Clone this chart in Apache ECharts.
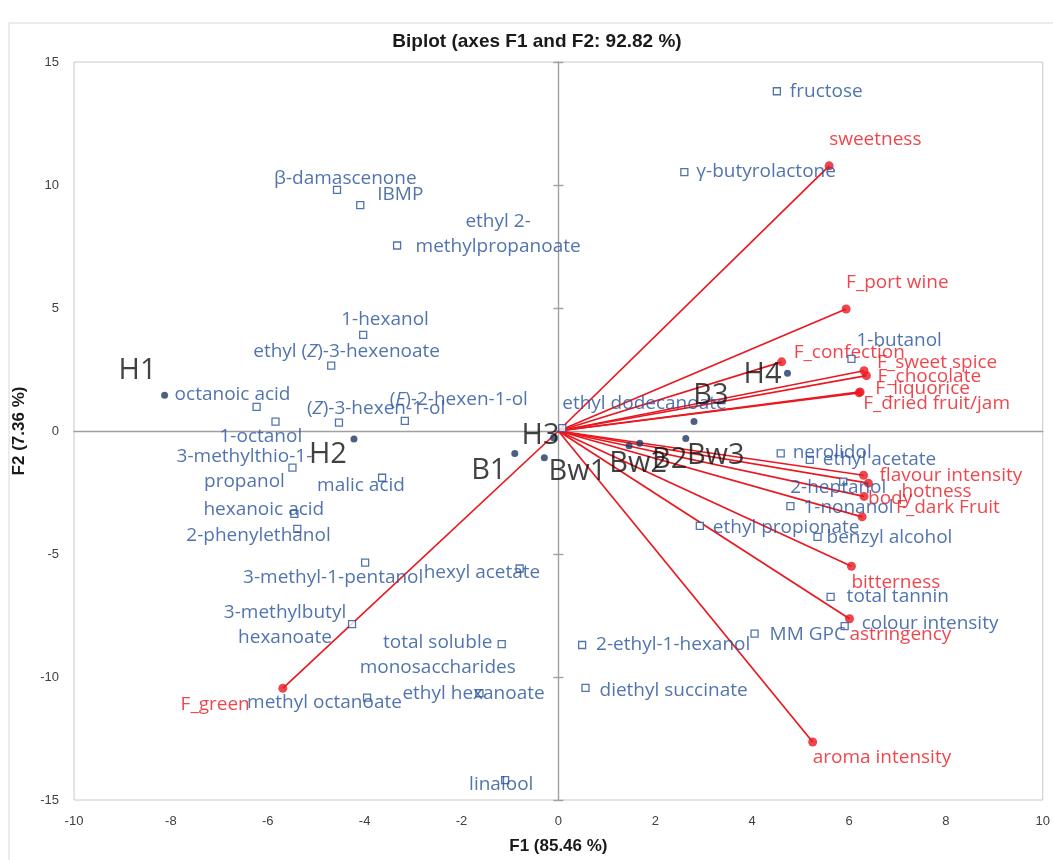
<!DOCTYPE html>
<html>
<head>
<meta charset="utf-8">
<script src="https://cdn.jsdelivr.net/npm/echarts/dist/echarts.min.js"></script>
<style>
html,body{margin:0;padding:0;background:#fff;}
#chart{width:1053px;height:860px;}
</style>
</head>
<body>
<div id="chart"></div>
<script>
// ---- Data ----
const titleText = 'Biplot (axes F1 and F2: 92.82 %)';
const xAxisName = 'F1 (85.46 %)';
const yAxisName = 'F2 (7.36 %)';

// Observations (wines)
const obsNames = ['H1','H2','H3','H4','B1','B2','B3','Bw1','Bw2','Bw3'];
const obsF1 = [-8.13,-4.22,-0.10,4.73,-0.90,1.68,2.80,-0.29,1.46,2.63];
const obsF2 = [1.45,-0.33,-0.27,2.35,-0.91,-0.50,0.39,-1.09,-0.60,-0.30];

// Chemical variables (blue squares)
const varNames = ['fructose','γ-butyrolactone','β-damascenone','IBMP','ethyl 2-\nmethylpropanoate',
  '1-hexanol','ethyl (Z)-3-hexenoate','octanoic acid','1-octanol','(Z)-3-hexen-1-ol','(E)-2-hexen-1-ol',
  'ethyl dodecanoate','3-methylthio-1-\npropanol','malic acid','hexanoic acid','2-phenylethanol',
  '3-methyl-1-pentanol','hexyl acetate','3-methylbutyl\nhexanoate','total soluble\nmonosaccharides',
  'methyl octanoate','ethyl hexanoate','linalool','2-ethyl-1-hexanol','diethyl succinate','MM GPC',
  'colour intensity','total tannin','benzyl alcohol','ethyl propionate','1-nonanol','2-heptanol',
  'ethyl acetate','nerolidol','1-butanol'];
const varF1 = [4.51,2.60,-4.57,-4.09,-3.33,-4.03,-4.69,-6.23,-5.84,-4.53,-3.17,0.08,-5.49,-3.64,-5.45,-5.39,
  -3.99,-0.80,-4.26,-1.17,-3.95,-1.63,-1.10,0.49,0.56,4.05,5.91,5.62,5.35,2.92,4.79,5.88,5.19,4.59,6.05];
const varF2 = [13.81,10.52,9.80,9.18,7.54,3.91,2.66,0.98,0.38,0.34,0.41,0.12,-1.49,-1.90,-3.37,-3.98,
  -5.35,-5.59,-7.85,-8.66,-10.84,-10.66,-14.19,-8.70,-10.44,-8.24,-7.93,-6.74,-4.30,-3.86,-3.05,-2.06,-1.17,-0.91,2.93];

// Sensory attributes (red vectors)
const sensNames = ['sweetness','F_port wine','F_confection','F_sweet spice','F_chocolate','F_liquorice',
  'F_dried fruit/jam','flavour intensity','hotness','body','F_dark Fruit','bitterness','astringency',
  'aroma intensity','F_green'];
const sensF1 = [5.59,5.94,4.61,6.31,6.36,6.23,6.21,6.30,6.40,6.31,6.27,6.05,6.01,5.25,-5.69];
const sensF2 = [10.78,4.96,2.81,2.45,2.25,1.59,1.55,-1.80,-2.12,-2.66,-3.49,-5.50,-7.63,-12.64,-10.46];

// Axis ticks
const xMin = -10, xMax = 10, xStep = 2;
const yMin = -15, yMax = 15, yStep = 5;

// ---- Label placement (pixel offsets from the mark: dx, dy, align) ----
const varLabelPos = {
  'fructose':[13,0,'left'], 'γ-butyrolactone':[12,-1,'left'], 'β-damascenone':[-63,-11,'left'],
  'IBMP':[17,-11,'left'], 'ethyl 2-\nmethylpropanoate':[101,-11,'center'], '1-hexanol':[-22,-15,'left'],
  'ethyl (Z)-3-hexenoate':[-78,-14,'left'], 'octanoic acid':[-82,-12,'left'], '1-octanol':[-56,15,'left'],
  '(Z)-3-hexen-1-ol':[-32,-14,'left'], '(E)-2-hexen-1-ol':[-15,-21,'left'], 'ethyl dodecanoate':[0,-24,'left'],
  '3-methylthio-1-\npropanol':[-48,1,'center'], 'malic acid':[-65,8,'left'], 'hexanoic acid':[-91,-4,'left'],
  '2-phenylethanol':[-111,7,'left'], '3-methyl-1-pentanol':[-122,15,'left'], 'hexyl acetate':[-96,4,'left'],
  '3-methylbutyl\nhexanoate':[-67,1,'center'], 'total soluble\nmonosaccharides':[-64,11,'center'],
  'methyl octanoate':[-120,5,'left'], 'ethyl hexanoate':[-77,0,'left'], 'linalool':[-36,5,'left'],
  '2-ethyl-1-hexanol':[14,0,'left'], 'diethyl succinate':[14,3,'left'], 'MM GPC':[15,1,'left'],
  'colour intensity':[17,-2,'left'], 'total tannin':[16,0,'left'], 'benzyl alcohol':[9,1,'left'],
  'ethyl propionate':[13,2,'left'], '1-nonanol':[13,2,'left'], '2-heptanol':[-53,6,'left'],
  'ethyl acetate':[13,0,'left'], 'nerolidol':[12,-1,'left'], '1-butanol':[5,-18,'left']
};
const sensLabelPos = {
  'sweetness':[0,-26,'left'], 'F_port wine':[0,-26,'left'], 'F_confection':[12,-9,'left'],
  'F_sweet spice':[13,-8,'left'], 'F_chocolate':[11,1,'left'], 'F_liquorice':[15,-3,'left'],
  'F_dried fruit/jam':[4,11,'left'], 'flavour intensity':[16,0,'left'], 'hotness':[33,8,'left'],
  'body':[4,2,'left'], 'F_dark Fruit':[34,-9,'left'], 'bitterness':[0,16,'left'],
  'astringency':[0,16,'left'], 'aroma intensity':[0,16,'left'], 'F_green':[-33,16,'right']
};
const obsLabelPos = {
  'H1':[-27,-25], 'H2':[-26,16], 'H3':[-13,-2], 'H4':[-25,2], 'B1':[-26,17],
  'B2':[30,16], 'B3':[17,-26], 'Bw1':[33,14], 'Bw2':[9,18], 'Bw3':[30,17]
};

// ---- Styles ----
const BLUE = '#27519a', NAVY = '#1f3864', RED = '#ea1820', AXIS = '#a0a0a0';
const FONT = 'Open Sans';
const labelSize = 19;

function fmtName(n){
  return n.replace('(Z)', '({i|Z})').replace('(E)', '({i|E})');
}

const varData = varNames.map((n,i) => {
  const p = varLabelPos[n] || [12,0,'left'];
  return {
    name: n, value: [varF1[i], varF2[i]],
    label: { show:true, position:'inside', offset:[p[0],p[1]], align:p[2], verticalAlign:'middle',
      formatter: fmtName(n), color: BLUE, fontFamily: FONT, fontSize: labelSize, lineHeight: 25,
      rich: { i: { fontStyle:'italic', color: BLUE, fontFamily: FONT, fontSize: labelSize } } }
  };
});
const sensData = sensNames.map((n,i) => {
  const p = sensLabelPos[n] || [12,0,'left'];
  return {
    name: n, value: [sensF1[i], sensF2[i]],
    label: { show:true, position:'inside', offset:[p[0],p[1]], align:p[2], verticalAlign:'middle',
      formatter: n, color: RED, fontFamily: FONT, fontSize: labelSize }
  };
});
const obsData = obsNames.map((n,i) => {
  const p = obsLabelPos[n] || [0,-20];
  return {
    name: n, value: [obsF1[i], obsF2[i]],
    label: { show:true, position:'inside', offset:[p[0],p[1]], align:'center', verticalAlign:'middle',
      formatter: n, color: '#111111', fontFamily: FONT, fontSize: 29 }
  };
});
const vectorData = sensNames.map((n,i) => ({ coords: [[0,0],[sensF1[i], sensF2[i]]] }));

const chart = echarts.init(document.getElementById('chart'), null, {renderer:'canvas'});
const hidden = {show:false};
chart.setOption({
  animation: false,
  backgroundColor: '#fff',
  graphic: [
    { type:'rect', z:-10, shape:{x:9, y:23, width:1100, height:900}, style:{fill:'none', stroke:'#d9d9d9', lineWidth:1} },
    { type:'text', x:537, y:42, style:{ text:titleText, textAlign:'center', textVerticalAlign:'middle',
      font:'bold 19px "Liberation Sans", Arial, sans-serif', fill:'#1a1a1a' } }
  ],
  grid: { left:74, right:7, top:62, bottom:55, show:true, borderColor:'#c8c8c8', borderWidth:1, backgroundColor:'transparent' },
  xAxis: [
    { type:'value', min:xMin, max:xMax, interval:xStep, position:'bottom',
      axisLine:{show:false, onZero:false}, axisTick:hidden, splitLine:hidden,
      axisLabel:{ color:'#404040', fontFamily:'Liberation Sans', fontSize:13, margin:15 },
      name:xAxisName, nameLocation:'middle', nameGap:38,
      nameTextStyle:{ fontFamily:'Liberation Sans', fontWeight:'bold', fontSize:17, color:'#1a1a1a' } },
    { type:'value', min:xMin, max:xMax, interval:xStep, position:'bottom',
      axisLine:{show:true, onZero:true, onZeroAxisIndex:0, lineStyle:{color:AXIS, width:1.4}},
      axisTick:hidden, axisLabel:hidden, splitLine:hidden }
  ],
  yAxis: [
    { type:'value', min:yMin, max:yMax, interval:yStep, position:'left',
      axisLine:{show:false, onZero:false}, axisTick:hidden, splitLine:hidden,
      axisLabel:{ color:'#404040', fontFamily:'Liberation Sans', fontSize:13, margin:15 },
      name:yAxisName, nameLocation:'middle', nameGap:46, nameRotate:90,
      nameTextStyle:{ fontFamily:'Liberation Sans', fontWeight:'bold', fontSize:17, color:'#1a1a1a' } },
    { type:'value', min:yMin, max:yMax, interval:yStep, position:'left',
      axisLine:{show:true, onZero:true, onZeroAxisIndex:0, lineStyle:{color:AXIS, width:1.4}},
      axisTick:{show:true, inside:false, length:5, lineStyle:{color:AXIS, width:1.4}},
      axisLabel:hidden, splitLine:hidden },
    { type:'value', min:yMin, max:yMax, interval:yStep, position:'left',
      axisLine:{show:false, onZero:true, onZeroAxisIndex:0},
      axisTick:{show:true, inside:true, length:5, lineStyle:{color:AXIS, width:1.4}},
      axisLabel:hidden, splitLine:hidden }
  ],
  series: [
    { type:'lines', coordinateSystem:'cartesian2d', xAxisIndex:0, yAxisIndex:0, z:3,
      lineStyle:{ color:RED, width:1.7, opacity:1 }, data: vectorData, silent:true },
    { type:'scatter', xAxisIndex:0, yAxisIndex:0, z:4, symbol:'circle', symbolSize:9,
      itemStyle:{ color:RED }, data: sensData },
    { type:'scatter', xAxisIndex:0, yAxisIndex:0, z:5, symbol:'rect', symbolSize:7,
      itemStyle:{ color:'#fff', borderColor:BLUE, borderWidth:1.3 }, data: varData },
    { type:'scatter', xAxisIndex:0, yAxisIndex:0, z:5, symbol:'circle', symbolSize:7,
      itemStyle:{ color:NAVY }, data: obsData }
  ]
});
</script>
</body>
</html>
